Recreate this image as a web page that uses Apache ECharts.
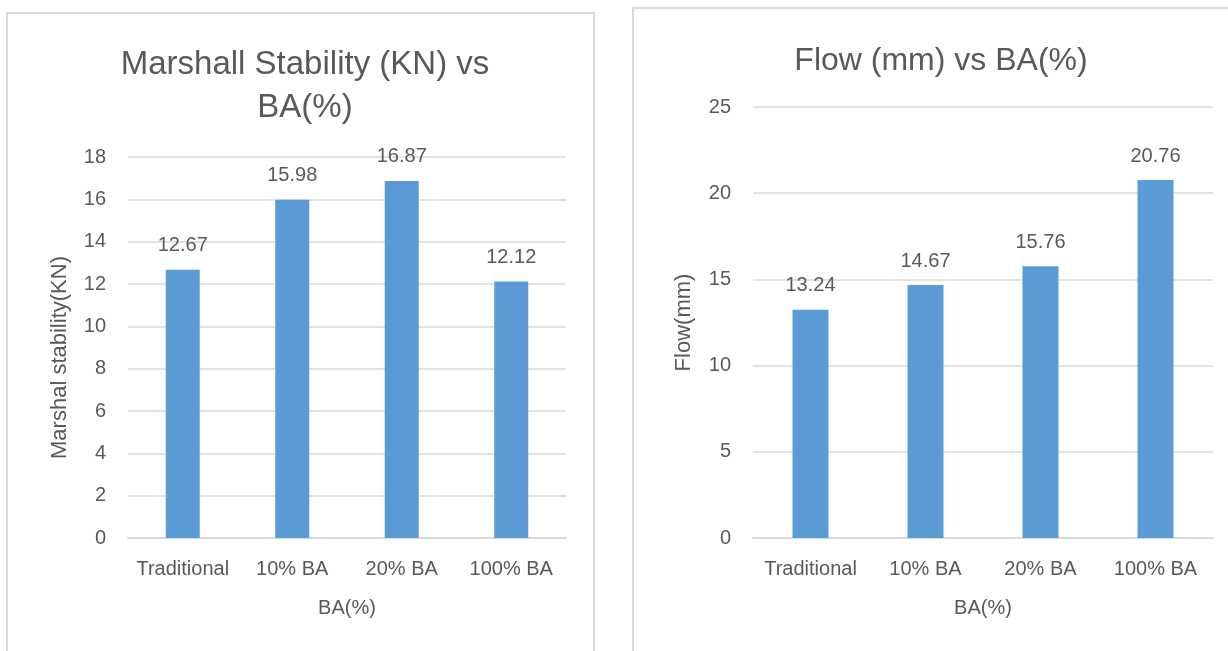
<!DOCTYPE html>
<html>
<head>
<meta charset="utf-8">
<script src="https://cdn.jsdelivr.net/npm/echarts@6/dist/echarts.min.js"></script>
<style>
html,body{margin:0;padding:0;background:#fff;}
#c{width:1228px;height:651px;}
</style>
</head>
<body>
<div id="c"></div>
<script>
var categories = ['Traditional', '10% BA', '20% BA', '100% BA'];
var stabilityValues = [12.67, 15.98, 16.87, 12.12];
var flowValues = [13.24, 14.67, 15.76, 20.76];
var stabilityTicks = {min: 0, max: 18, interval: 2};
var flowTicks = {min: 0, max: 25, interval: 5};

var FONT = '"Liberation Sans", Arial, sans-serif';
var TXT = '#595959';
var GRID = '#d9d9d9';
var BAR = '#5B9BD5';

function yAxis(idx, ticks, name, gap, fs, pad) {
  return {
    type: 'value', gridIndex: idx, min: ticks.min, max: ticks.max, interval: ticks.interval,
    name: name, nameLocation: 'middle', nameGap: gap, nameRotate: 90,
    nameTextStyle: {fontFamily: FONT, fontSize: fs, color: TXT, padding: pad},
    axisLine: {show: false}, axisTick: {show: false},
    axisLabel: {fontFamily: FONT, fontSize: 20, color: TXT, margin: 22},
    splitLine: {lineStyle: {color: GRID, width: 1.5}}
  };
}
function xAxis(idx) {
  return {
    type: 'category', gridIndex: idx, data: categories,
    name: 'BA(%)', nameLocation: 'middle', nameGap: 60,
    nameTextStyle: {fontFamily: FONT, fontSize: 20, color: TXT},
    axisLine: {lineStyle: {color: GRID, width: 2}}, axisTick: {show: false},
    axisLabel: {fontFamily: FONT, fontSize: 20, color: TXT, margin: 21, interval: 0}
  };
}
function label() {
  return {show: true, position: 'top', distance: 14, fontFamily: FONT, fontSize: 20, color: TXT,
    formatter: function (p) { return p.value.toFixed(2); }};
}

var chart = echarts.init(document.getElementById('c'), null, {renderer: 'canvas'});
chart.setOption({
  animation: false,
  backgroundColor: '#fff',
  graphic: [
    {type: 'rect', shape: {x: 7, y: 13, width: 587, height: 660}, style: {fill: 'none', stroke: GRID, lineWidth: 2}, z: -10},
    {type: 'rect', shape: {x: 633, y: 8, width: 620, height: 660}, style: {fill: 'none', stroke: GRID, lineWidth: 2}, z: -10}
  ],
  title: [
    {text: 'Marshall Stability (KN) vs\nBA(%)', left: 300, top: 38, textAlign: 'center',
     textStyle: {fontFamily: FONT, fontSize: 33, fontWeight: 'normal', color: TXT, lineHeight: 43}},
    {text: 'Flow (mm) vs BA(%)', left: 936, top: 35, textAlign: 'center',
     textStyle: {fontFamily: FONT, fontSize: 32, fontWeight: 'normal', color: TXT, lineHeight: 42}}
  ],
  grid: [
    {left: 128, top: 157, width: 438, height: 381},
    {left: 753, top: 107, width: 460, height: 431}
  ],
  xAxis: [xAxis(0), xAxis(1)],
  yAxis: [yAxis(0, stabilityTicks, 'Marshal stability(KN)', 57, 22, [0, 20, 0, 0]),
          yAxis(1, flowTicks, 'Flow(mm)', 58, 22, 0)],
  series: [
    {type: 'bar', xAxisIndex: 0, yAxisIndex: 0, data: stabilityValues, barWidth: 34,
     itemStyle: {color: BAR}, label: label()},
    {type: 'bar', xAxisIndex: 1, yAxisIndex: 1, data: flowValues, barWidth: 36,
     itemStyle: {color: BAR}, label: label()}
  ]
});
</script>
</body>
</html>
